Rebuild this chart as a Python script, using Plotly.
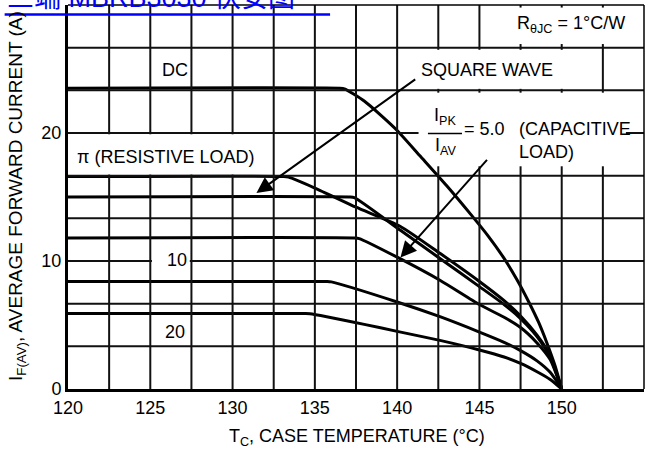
import plotly.graph_objects as go

# Case temperature (degC) / average forward current (A) derating curves
dc_t = [120, 136.5, 136.8, 138, 139, 140, 141.4, 143, 144.5, 145.5, 146.5, 147.3, 148, 148.6, 149.1, 149.6, 150]
dc_i = [23.5, 23.5, 23.45, 22.5, 21.4, 20.2, 18.2, 15.9, 13.6, 12.0, 10.2, 8.5, 6.8, 5.2, 3.6, 1.8, 0]

res_t = [120, 133.1, 133.4, 135, 137.5, 140.2, 142.6, 145, 146.5, 147.5, 148.5, 149.3, 150]
res_i = [16.6, 16.6, 16.55, 15.7, 14.2, 12.7, 10.6, 8.4, 6.9, 5.7, 4.2, 2.6, 0]

sq_t = [120, 137.1, 137.4, 140.2, 142.6, 145, 146.5, 147.5, 148.5, 149.3, 150]
sq_i = [15.0, 15.0, 14.95, 12.4, 10.2, 8.0, 6.6, 5.5, 4.1, 2.5, 0]

cap5_t = [120, 137.4, 137.7, 140, 142.6, 145, 146.5, 147.5, 148.5, 149.3, 150]
cap5_i = [11.8, 11.8, 11.75, 10.3, 8.5, 6.6, 5.6, 4.8, 3.6, 2.3, 0]

cap10_t = [120, 135.7, 136.0, 140, 142.6, 145, 146.5, 147.5, 148.5, 149.3, 150]
cap10_i = [8.4, 8.4, 8.37, 6.8, 5.65, 4.45, 3.65, 3.0, 2.2, 1.3, 0]

cap20_t = [120, 134.4, 134.7, 138, 140, 142.6, 145, 146.5, 147.5, 148.5, 149.3, 150]
cap20_i = [5.9, 5.9, 5.88, 5.05, 4.5, 3.8, 3.05, 2.5, 2.0, 1.35, 0.75, 0]

x_tickvals = [120, 122.5, 125, 127.5, 130, 132.5, 135, 137.5, 140, 142.5, 145, 147.5, 150, 152.5, 155]
x_ticktext = ["120", " ", "125", " ", "130", " ", "135", " ", "140", " ", "145", " ", "150", " ", "155"]
y_tickvals = [0, 10 / 3, 20 / 3, 10, 40 / 3, 50 / 3, 20, 70 / 3, 80 / 3, 30]
y_ticktext = ["0", " ", " ", "10", " ", " ", "20", " ", " ", "30"]

FONT = "Liberation Sans, Arial, sans-serif"
BLACK = "#000000"
GRID = "#111111"
X_MIN, X_MAX, Y_MIN, Y_MAX = 120, 155, 0, 30

fig = go.Figure()
for t, i in [(dc_t, dc_i), (res_t, res_i), (sq_t, sq_i), (cap5_t, cap5_i),
             (cap10_t, cap10_i), (cap20_t, cap20_i)]:
    fig.add_trace(go.Scatter(x=t, y=i, mode="lines",
                             line=dict(color=BLACK, width=3, shape="spline", smoothing=0.6),
                             showlegend=False, hoverinfo="skip"))

# areas kept clear of grid lines around the labels (x0, y0, x1, y1)
label_areas = [
    (120.15, 16.75, 131.5, 19.9),    # pi (resistive load)
    (141.2, 23.45, 151.1, 26.5),     # square wave
    (146.5, 26.95, 154.85, 29.8),    # R theta JC
    (141.3, 17.4, 153.9, 23.15),     # capacitive load
    (125.1, 9.4, 127.4, 10.7),       # 10
]


def open_runs(lo, hi, cuts):
    """Split [lo, hi] into the pieces left after removing the cut intervals."""
    runs, start = [], lo
    for c0, c1 in sorted(cuts):
        if c0 > start:
            runs.append((start, c0))
        start = max(start, c1)
    if start < hi:
        runs.append((start, hi))
    return runs


shapes = []
for xv in x_tickvals[1:-1]:
    cuts = [(a[1], a[3]) for a in label_areas if a[0] < xv < a[2]]
    for y0, y1 in open_runs(Y_MIN, Y_MAX, cuts):
        shapes.append(dict(type="line", xref="x", yref="y", x0=xv, x1=xv, y0=y0, y1=y1,
                           line=dict(color=GRID, width=2)))
for yv in y_tickvals[1:-1]:
    cuts = [(a[0], a[2]) for a in label_areas if a[1] < yv < a[3]]
    for x0, x1 in open_runs(X_MIN, X_MAX, cuts):
        shapes.append(dict(type="line", xref="x", yref="y", x0=x0, x1=x1, y0=yv, y1=yv,
                           line=dict(color=GRID, width=2)))
# top and right frame
shapes.append(dict(type="line", xref="paper", yref="paper", x0=0, x1=1, y0=1, y1=1,
                   line=dict(color=BLACK, width=1.5)))
shapes.append(dict(type="line", xref="paper", yref="paper", x0=1, x1=1, y0=0, y1=1,
                   line=dict(color=BLACK, width=1.5)))
# fraction bar of IPK / IAV
shapes.append(dict(type="line", xref="x", yref="y", x0=141.87, x1=143.94, y0=19.96, y1=19.96,
                   line=dict(color=BLACK, width=1.5)))
# blue hyperlink underline above the chart
shapes.append(dict(type="line", xref="paper", yref="paper", x0=-0.11, x1=0.455,
                   y0=(389 - 14.5) / 384, y1=(389 - 14.5) / 384,
                   line=dict(color="#0000FF", width=2.5)))

txt = dict(size=18, color=BLACK, family=FONT)
annotations = [
    dict(x=126.5, y=24.9, text="DC"),
    dict(x=145.49, y=24.92, text="SQUARE WAVE"),
    dict(x=125.95, y=18.1, text="π (RESISTIVE LOAD)"),
    dict(x=126.62, y=10.05, text="10"),
    dict(x=126.5, y=4.45, text="20"),
    dict(x=147.16, y=28.5, text="R<sub>θJC</sub> = 1°C/W", xanchor="left"),
    dict(x=142.91, y=21.3, text="I<sub>PK</sub>"),
    dict(x=142.91, y=18.95, text="I<sub>AV</sub>"),
    dict(x=143.95, y=20.3, text="= 5.0", xanchor="left"),
    dict(x=147.28, y=20.3, text="(CAPACITIVE", xanchor="left"),
    dict(x=147.28, y=18.5, text="LOAD)", xanchor="left"),
]
for a in annotations:
    a.setdefault("xanchor", "center")
    a.update(xref="x", yref="y", yanchor="middle", showarrow=False, font=txt)

# pointer arrows
for (hx, hy, tx, ty) in [(131.45, 15.31, 141.19, 24.27), (140.2, 10.27, 145.54, 18.02)]:
    annotations.append(dict(x=hx, y=hy, ax=tx, ay=ty, xref="x", yref="y", axref="x", ayref="y",
                            text="", showarrow=True, arrowhead=2, arrowsize=1.6,
                            arrowwidth=2, arrowcolor=BLACK, standoff=0))

# axis titles
annotations.append(dict(x=(356.5 - 68) / 576, y=(389 - 437) / 384, xref="paper", yref="paper",
                        text="T<sub>C</sub>, CASE TEMPERATURE (°C)", showarrow=False,
                        xanchor="center", yanchor="middle", font=txt))
annotations.append(dict(x=(17 - 68) / 576, y=(389 - 196) / 384, xref="paper", yref="paper",
                        text="I<sub>F(AV)</sub>, AVERAGE FORWARD CURRENT (A)", showarrow=False,
                        textangle=-90, xanchor="center", yanchor="middle",
                        font=dict(size=19, color=BLACK, family=FONT)))
# hyperlink text running off the top edge
annotations.append(dict(x=(5 - 68) / 576, y=(389 - 12) / 384, xref="paper", yref="paper",
                        text="三端 MBRB3030 伏安图", showarrow=False, xanchor="left",
                        yanchor="bottom", yshift=-3,
                        font=dict(size=27, color="#0000FF", family="Liberation Sans, Noto Sans CJK SC")))

fig.update_layout(
    width=657, height=454,
    margin=dict(l=68, r=13, t=5, b=65),
    paper_bgcolor="white", plot_bgcolor="white",
    shapes=shapes, annotations=annotations,
    font=dict(family=FONT, size=18, color=BLACK),
    xaxis=dict(range=[X_MIN, X_MAX], tickvals=x_tickvals, ticktext=x_ticktext,
               showgrid=False, zeroline=False,
               showline=True, linecolor=BLACK, linewidth=3, ticks="",
               tickfont=dict(size=18, family=FONT, color=BLACK)),
    yaxis=dict(range=[Y_MIN, Y_MAX], tickvals=y_tickvals, ticktext=y_ticktext,
               showgrid=False, zeroline=False,
               showline=True, linecolor=BLACK, linewidth=3, ticks="",
               tickfont=dict(size=18, family=FONT, color=BLACK)),
)

fig.write_html("out.html")
